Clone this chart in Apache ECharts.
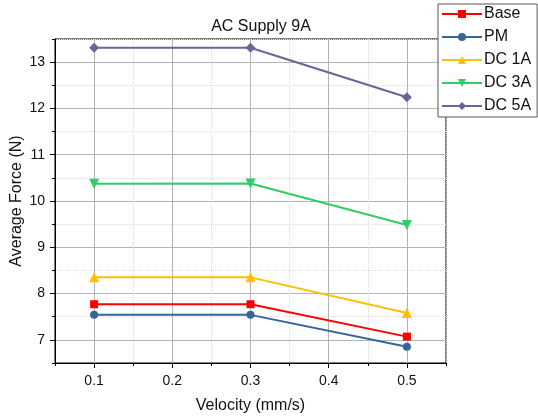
<!DOCTYPE html>
<html>
<head>
<meta charset="utf-8">
<script src="https://cdn.jsdelivr.net/npm/echarts@6/dist/echarts.min.js"></script>
<style>
html, body { margin: 0; padding: 0; background: #fff; }
#chart { width: 538px; height: 419px; }
</style>
</head>
<body>
<div id="chart"></div>
<script>
// velocities (mm/s)
var velocity = [0.1, 0.3, 0.5];

// average force (N) per configuration
var base = [7.77, 7.77, 7.07];
var pm = [7.54, 7.54, 6.85];
var dc1a = [8.35, 8.35, 7.58];
var dc3a = [10.37, 10.38, 9.48];
var dc5a = [13.31, 13.31, 12.24];

var xMajor = [0.1, 0.2, 0.3, 0.4, 0.5];
var xMinor = [0.05, 0.15, 0.25, 0.35, 0.45, 0.55];
var yMajor = [7, 8, 9, 10, 11, 12, 13];
var yMinor = [6.5, 7.5, 8.5, 9.5, 10.5, 11.5, 12.5, 13.5];

var font = 'Liberation Sans, Arial, sans-serif';

function pairs(y) {
	return velocity.map((v, i) => [v, y[i]]);
}

function mkSeries(name, data, color, symbol, size) {
	return {
		name: name,
		type: 'line',
		data: pairs(data),
		color: color,
		symbol: symbol,
		symbolSize: size,
		showSymbol: true,
		lineStyle: { width: 2, color: color },
		itemStyle: { color: color },
		z: 5
	};
}

var chart = echarts.init(document.getElementById('chart'));

var option = {
	animation: false,
	backgroundColor: '#fff',
	title: {
		text: 'AC Supply 9A',
		left: 256,
		top: 14,
		textAlign: 'center',
		textStyle: { fontFamily: font, fontSize: 16, fontWeight: 'normal', color: '#111' }
	},
	legend: {
		orient: 'vertical',
		left: 438,
		top: 4,
		width: 100,
		padding: [2, 6, 3, 3],
		itemGap: 7,
		itemWidth: 40,
		itemHeight: 10,
		borderColor: '#555',
		borderWidth: 1,
		backgroundColor: '#fff',
		selectedMode: false,
		textStyle: { fontFamily: font, fontSize: 16, color: '#111', padding: [0, 0, 0, -3] },
		data: ['Base', 'PM', 'DC 1A', 'DC 3A', 'DC 5A']
	},
	grid: {
		left: 55,
		top: 39,
		right: 92,
		bottom: 56,
		outerBoundsMode: 'none',
		containLabel: false,
		show: true,
		borderColor: '#000',
		borderWidth: 1
	},
	xAxis: [
		{
			type: 'value',
			min: 0.05,
			max: 0.55,
			name: 'Velocity (mm/s)',
			nameLocation: 'middle',
			nameGap: 35,
			nameMoveOverlap: false,
			nameTextStyle: { fontFamily: font, fontSize: 16, color: '#111' },
			axisLine: { lineStyle: { color: '#000', width: 1 } },
			axisTick: { show: true, inside: false, length: 5, customValues: xMajor, lineStyle: { color: '#000' } },
			axisLabel: { customValues: xMajor, fontFamily: font, fontSize: 14, color: '#111', margin: 11,
				formatter: v => v.toFixed(1) },
			splitLine: { show: true, lineStyle: { color: '#b4b4b4', width: 1 } }
		},
		{
			type: 'value',
			min: 0.05,
			max: 0.55,
			position: 'bottom',
			axisLine: { show: false },
			axisTick: { show: true, inside: false, length: 3, customValues: xMinor, lineStyle: { color: '#000' } },
			axisLabel: { show: false },
			splitLine: { show: true, lineStyle: { color: '#dcdcdc', width: 1, type: [1, 1] } }
		}
	],
	yAxis: [
		{
			type: 'value',
			min: 6.5,
			max: 13.5,
			name: 'Average Force (N)',
			nameLocation: 'middle',
			nameGap: 30,
			nameMoveOverlap: false,
			nameTextStyle: { fontFamily: font, fontSize: 16, color: '#111' },
			axisLine: { show: true, lineStyle: { color: '#000', width: 1 } },
			axisTick: { show: true, inside: false, length: 5, customValues: yMajor, lineStyle: { color: '#000' } },
			axisLabel: { customValues: yMajor, fontFamily: font, fontSize: 14, color: '#111', margin: 10 },
			splitLine: { show: true, lineStyle: { color: '#b4b4b4', width: 1 } }
		},
		{
			type: 'value',
			min: 6.5,
			max: 13.5,
			position: 'left',
			axisLine: { show: false },
			axisTick: { show: true, inside: false, length: 3, customValues: yMinor, lineStyle: { color: '#000' } },
			axisLabel: { show: false },
			splitLine: { show: true, lineStyle: { color: '#dcdcdc', width: 1, type: [1, 1] } }
		}
	],
	series: [
		mkSeries('Base', base, '#ff0000', 'rect', 8),
		mkSeries('PM', pm, '#336699', 'circle', 8),
		mkSeries('DC 1A', dc1a, '#ffc000', 'triangle', 10),
		mkSeries('DC 3A', dc3a, '#33cc66', 'path://M0,0 L10,0 L5,10 Z', 10),
		mkSeries('DC 5A', dc5a, '#666699', 'diamond', 10)
	]
};

chart.setOption(option);
</script>
</body>
</html>
